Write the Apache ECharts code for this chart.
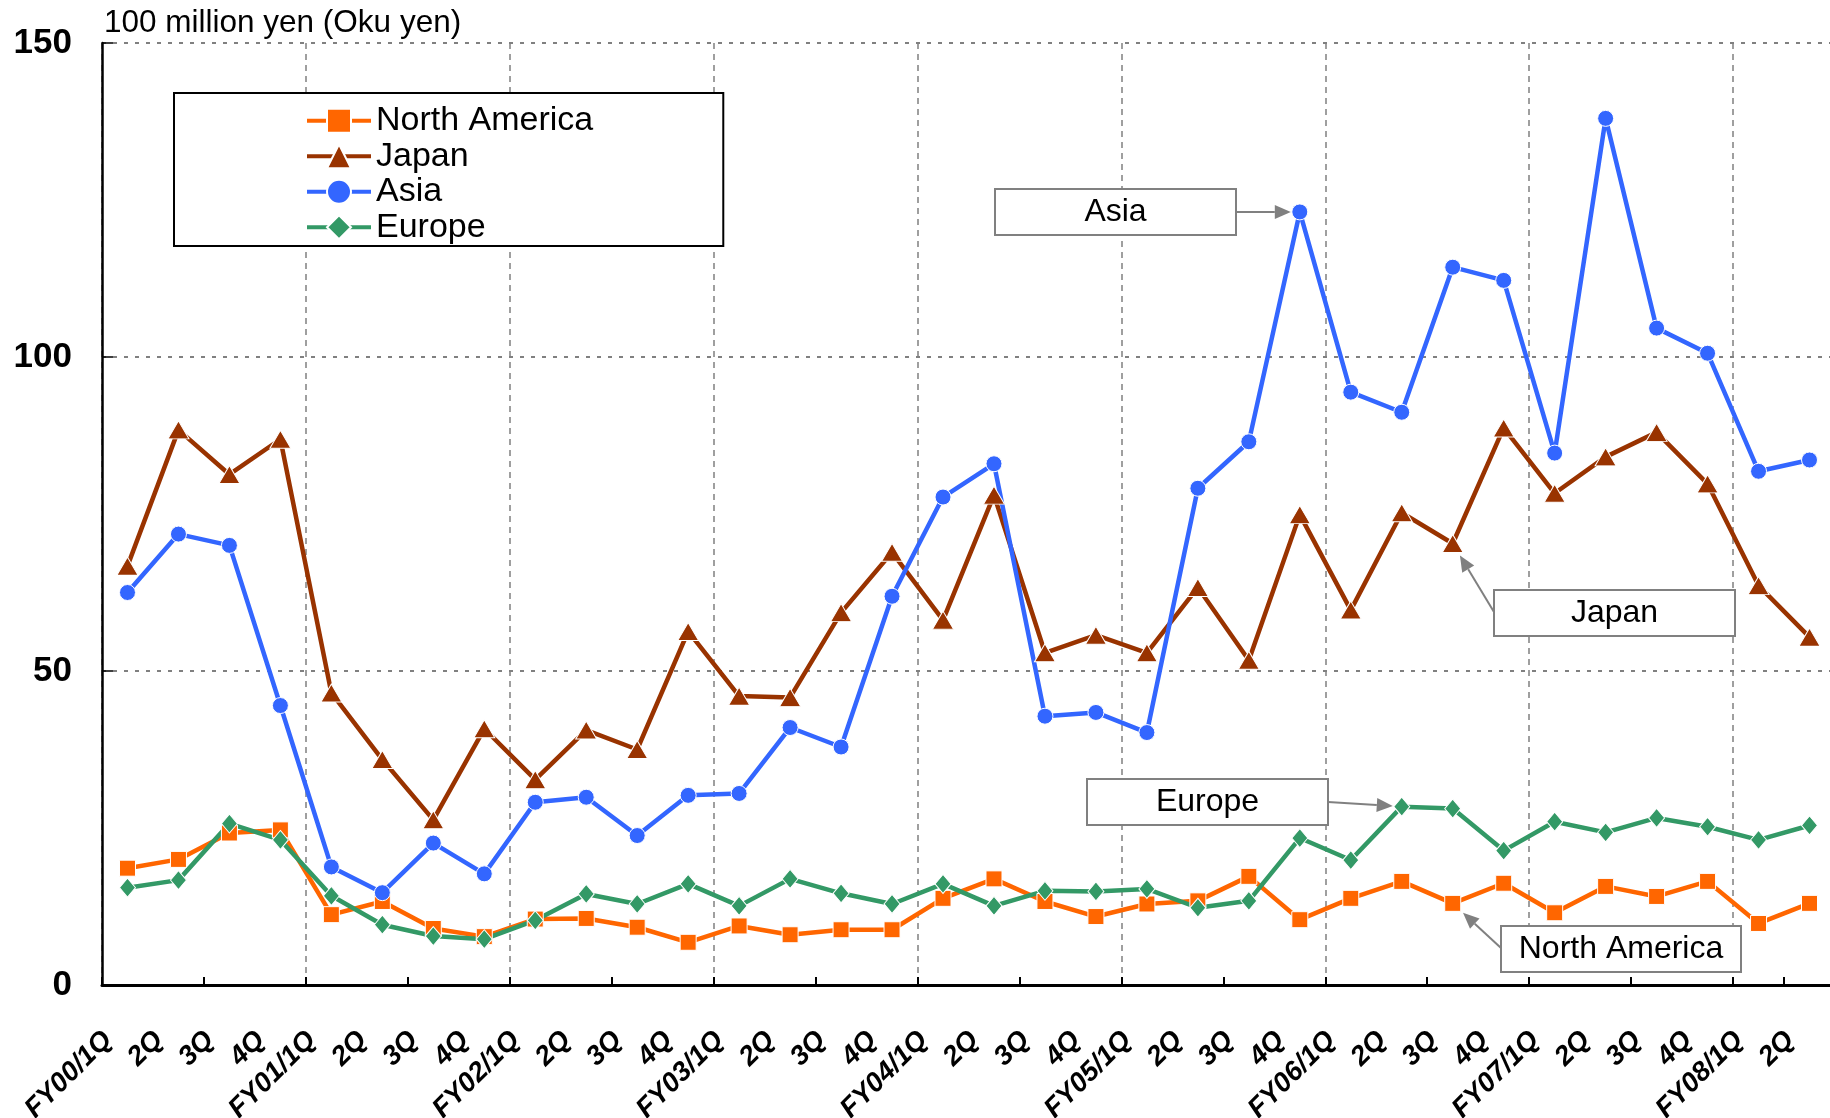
<!DOCTYPE html>
<html><head><meta charset="utf-8">
<script src="https://cdn.jsdelivr.net/npm/echarts@6/dist/echarts.min.js"></script>
<style>html,body{margin:0;padding:0;background:#fff}#c{width:1830px;height:1118px}</style>
</head><body><div id="c"></div>
<script>
const categories = ['FY00/1Q','2Q','3Q','4Q','FY01/1Q','2Q','3Q','4Q','FY02/1Q','2Q','3Q','4Q','FY03/1Q','2Q','3Q','4Q','FY04/1Q','2Q','3Q','4Q','FY05/1Q','2Q','3Q','4Q','FY06/1Q','2Q','3Q','4Q','FY07/1Q','2Q','3Q','4Q','FY08/1Q','2Q'];
const northAmerica = [18.6,20.0,24.2,24.7,11.2,13.3,9.0,7.7,10.5,10.6,9.2,6.8,9.4,8.0,8.8,8.8,13.8,16.9,13.3,10.9,12.9,13.4,17.3,10.4,13.8,16.5,13.0,16.2,11.5,15.7,14.1,16.5,9.8,13.0];
const japan = [66.7,88.4,81.3,86.9,46.5,35.9,26.3,40.8,32.7,40.6,37.5,56.3,46.0,45.8,59.3,68.9,58.1,78.0,52.9,55.7,52.9,63.3,51.7,74.9,59.7,75.2,70.3,88.7,78.3,84.1,88.0,79.8,63.6,55.4];
const asia = [62.5,71.8,70.0,44.5,18.8,14.7,22.6,17.7,29.1,29.9,23.8,30.2,30.5,41.0,37.9,61.9,77.7,83.0,42.8,43.4,40.2,79.1,86.5,123.1,94.4,91.2,114.3,112.2,84.7,138.0,104.6,100.6,81.8,83.6];
const europe = [15.5,16.7,25.7,23.1,14.2,9.6,7.8,7.3,10.3,14.5,12.9,16.1,12.6,16.9,14.6,12.9,16.1,12.6,15.0,14.9,15.3,12.3,13.4,23.4,19.9,28.4,28.1,21.4,26.0,24.3,26.6,25.2,23.1,25.4];
const seriesNames = ['North America','Japan','Asia','Europe'];
const unitLabel = '100 million yen (Oku yen)';
const yTicks = [0, 50, 100, 150];
const quartersPerYear = 4;
// annotation callouts: [series index, category index, label]
const callouts = [[2, 23, 'Asia'], [1, 26, 'Japan'], [3, 25, 'Europe'], [0, 26, 'North America']];

const FONT = "'Liberation Sans', Arial, sans-serif";
const colors = ['#FF6600', '#993300', '#3366FF', '#339966'];
const symbols = ['rect', 'triangle', 'circle', 'diamond'];
const symbolSizes = [16, [21, 18], 16, [16, 19]];
const dataSets = [northAmerica, japan, asia, europe];

const chart = echarts.init(document.getElementById('c'));
chart.setOption({
  animation: false,
  backgroundColor: '#fff',
  color: colors,
  title: { text: unitLabel, left: 104, top: 7, padding: 0,
    textStyle: { fontFamily: FONT, fontSize: 31.5, fontWeight: 'normal', color: '#000' } },
  legend: {
    orient: 'vertical', left: 174, top: 93,
    padding: [10, 130, 1, 131],
    borderColor: '#000', borderWidth: 2, backgroundColor: '#fff',
    itemWidth: 64, itemHeight: 30, itemGap: 0,
    lineStyle: { width: 4 },
    textStyle: { fontFamily: FONT, fontSize: 34, color: '#000', lineHeight: 35.5 },
    data: seriesNames
  },
  grid: { left: 102, width: 1733, top: 43, bottom: 133, containLabel: false, outerBoundsMode: 'none' },
  xAxis: [{
    type: 'category', data: categories, boundaryGap: true,
    axisLine: { lineStyle: { color: '#000', width: 3 } },
    axisTick: { show: true, inside: true, interval: 1, length: 8, lineStyle: { color: '#000', width: 2 } },
    splitLine: { show: false },
    axisLabel: { interval: 0, rotate: 45, margin: 31, padding: [0, 28, 0, 0], fontFamily: FONT, fontSize: 27.5,
      fontWeight: 'bold', fontStyle: 'italic', color: '#000' },
    z: 3
  }, {
    // helper axis that only draws the fiscal-year vertical grid lines at quarter boundaries
    type: 'value', position: 'bottom', min: 0, max: categories.length, interval: quartersPerYear,
    axisLine: { show: false }, axisTick: { show: false }, axisLabel: { show: false },
    splitLine: { show: true, lineStyle: { color: '#808080', type: [6, 5], width: 1.5 } }
  }],
  yAxis: {
    type: 'value', min: yTicks[0], max: yTicks[yTicks.length - 1], interval: 50,
    axisLine: { show: true, lineStyle: { color: '#000', width: 2.5 } },
    axisTick: { show: true, inside: true, length: 11, lineStyle: { color: '#000', width: 1.5 } },
    splitLine: { show: true, lineStyle: { color: '#808080', type: [4, 7], width: 2 } },
    axisLabel: { margin: 30, fontFamily: FONT, fontSize: 35, fontWeight: 'bold', color: '#000' }
  },
  series: seriesNames.map((n, k) => ({
    name: n, type: 'line', data: dataSets[k], xAxisIndex: 0,
    symbol: symbols[k], symbolSize: symbolSizes[k], showAllSymbol: true,
    lineStyle: { width: 4.5, color: colors[k] },
    itemStyle: { color: colors[k], borderColor: '#fff', borderWidth: 1 },
    emphasis: { disabled: true }
  }))
});

// callout boxes (layout) with arrows pointing at data points located through the chart's scales
const boxes = [
  { x: 995, y: 189, w: 241, h: 46, from: 'right' },
  { x: 1494, y: 590, w: 241, h: 46, from: 'left' },
  { x: 1087, y: 779, w: 241, h: 46, from: 'right' },
  { x: 1501, y: 926, w: 240, h: 46, from: 'left' }
];
const gray = '#808080';
const graphics = [];
callouts.forEach((c, idx) => {
  const [si, ci, label] = c;
  const b = boxes[idx];
  const p = chart.convertToPixel({ seriesIndex: si }, [ci, dataSets[si][ci]]);
  let sx, sy;
  if (b.from === 'right') { sx = b.x + b.w; sy = b.y + b.h / 2; }
  else { sx = b.x; sy = b.y + 22; }
  const dx = p[0] - sx, dy = p[1] - sy;
  const len = Math.sqrt(dx * dx + dy * dy);
  const ux = dx / len, uy = dy / len;
  const stand = b.from === 'right' ? 9 : 14;
  const tx = p[0] - ux * stand, ty = p[1] - uy * stand;
  const hl = 16, hw = 7;
  const bx = tx - ux * hl, by = ty - uy * hl;
  graphics.push({ type: 'line', z: 100, shape: { x1: sx, y1: sy, x2: bx, y2: by }, style: { stroke: gray, lineWidth: 2 } });
  graphics.push({ type: 'polygon', z: 100, shape: { points: [[tx, ty], [bx - uy * hw, by + ux * hw], [bx + uy * hw, by - ux * hw]] }, style: { fill: gray } });
  graphics.push({ type: 'rect', z: 100, shape: { x: b.x, y: b.y, width: b.w, height: b.h }, style: { fill: '#fff', stroke: gray, lineWidth: 2 } });
  graphics.push({ type: 'text', z: 101, x: b.x + b.w / 2, y: b.y + b.h / 2,
    style: { text: label, fill: '#000', font: '32px ' + FONT, align: 'center', verticalAlign: 'middle' } });
});
chart.setOption({ graphic: graphics });
</script>
</body></html>
